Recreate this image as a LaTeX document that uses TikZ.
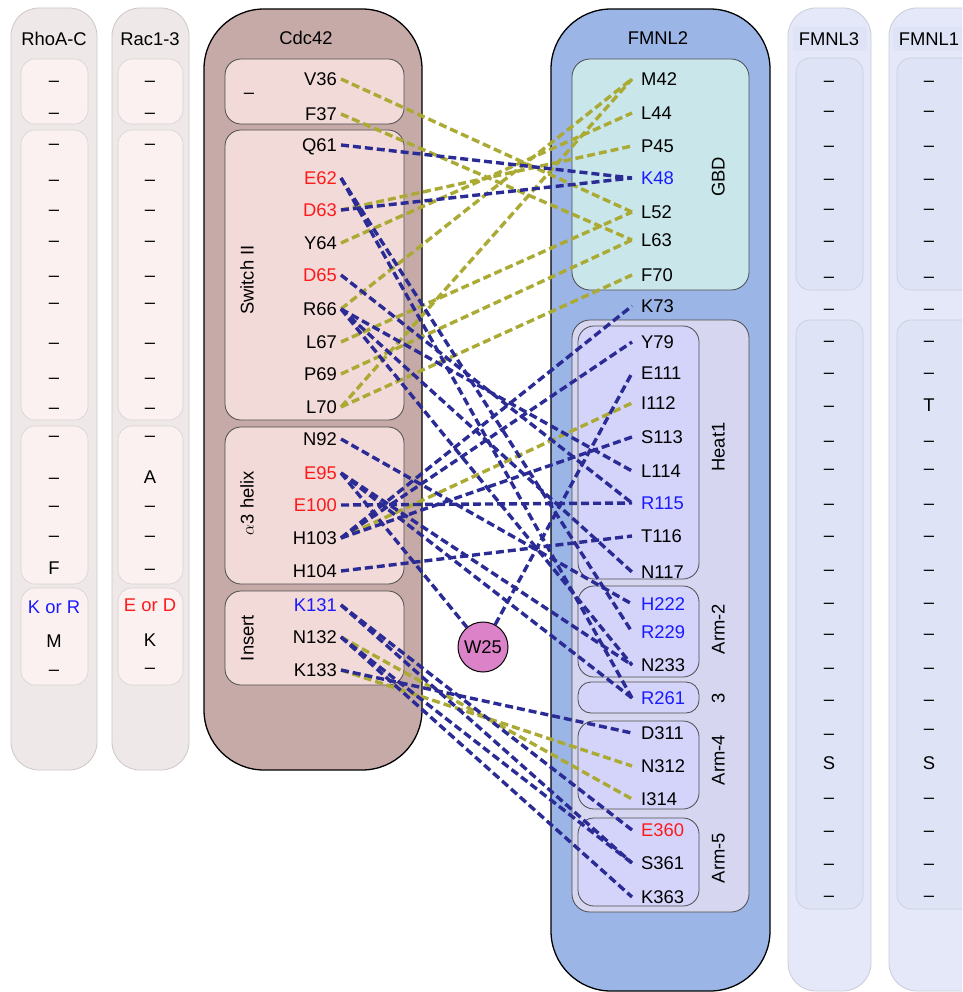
\documentclass[tikz,border=0pt]{standalone}
\usepackage{fontspec}
\setmainfont{Liberation Sans}
\definecolor{grayout}{HTML}{EFE8E8}
\definecolor{grayin}{HTML}{FBF1F1}
\definecolor{grayline}{HTML}{CFC6C6}
\definecolor{cdcout}{HTML}{C5AAA7}
\definecolor{cdcin}{HTML}{F2DAD8}
\definecolor{fmout}{HTML}{9BB5E6}
\definecolor{gbd}{HTML}{C9E6EB}
\definecolor{fh3}{HTML}{D6D6F1}
\definecolor{fhin}{HTML}{D4D4FB}
\definecolor{fm3out}{HTML}{E4E8F8}
\definecolor{fm3in}{HTML}{DFE3F6}
\definecolor{fm3line}{HTML}{C9CDDA}
\definecolor{w25c}{HTML}{DC82C8}
\definecolor{bluec}{HTML}{2B2B96}
\definecolor{olivec}{HTML}{ABAA34}
\definecolor{redt}{HTML}{FF1A1A}
\definecolor{bluet}{HTML}{1A1AFF}
\newcommand\conn[3]{\draw[#1] ([xshift=4pt]#2.east) -- ([xshift=-9pt]#3.west);}
\begin{document}
\begin{tikzpicture}[x=1pt,y=-1pt,
  res/.style={inner sep=0pt, text height=13.2pt, text depth=0pt, font=\fontsize{18.4}{20}\selectfont},
  resL/.style={res, anchor=east},
  resR/.style={res, anchor=west},
  cres/.style={res, anchor=center},
  ttl/.style={font=\fontsize{18.4}{20}\selectfont, inner sep=0pt, text height=13.2pt, text depth=0pt},
  vlab/.style={ttl, rotate=90},
  grayouter/.style={draw=grayline, fill=grayout, line width=0.8pt, rounded corners=28pt},
  grayinner/.style={draw=grayline!80, fill=grayin, line width=0.6pt, rounded corners=14pt},
  fmouter/.style={draw=fm3line, fill=fm3out, line width=0.8pt, rounded corners=28pt},
  fminner/.style={draw=fm3line, fill=fm3in, line width=0.6pt, rounded corners=14pt},
  bigouter/.style={draw=black, line width=1.3pt, rounded corners=60pt},
  inbox/.style={draw=black!70, line width=0.8pt, rounded corners=16pt},
  ol/.style={draw=olivec, line width=3.4pt, dash pattern=on 8pt off 4pt},
  bl/.style={draw=bluec, line width=3.4pt, dash pattern=on 8pt off 4pt}]
\useasboundingbox (0,0) rectangle (962,992);
\clip (0,0) rectangle (962,992);
\fill[white] (0,0) rectangle (962,992);

% ---------- RhoA-C and Rac1-3 ----------
\draw[grayouter] (11,8) rectangle (97,770);
\draw[grayouter] (112,8) rectangle (189,770);
\foreach \xa/\xb in {21/88,118/183}{
  \draw[grayinner] (\xa,59) rectangle (\xb,124);
  \draw[grayinner] (\xa,130) rectangle (\xb,420);
  \draw[grayinner] (\xa,426) rectangle (\xb,584);
  \draw[grayinner] (\xa,588) rectangle (\xb,685);
}
\node[ttl] (tRho) at (54,39) {RhoA-C};
\node[ttl] (tRac) at (150,39) {Rac1-3};
\foreach \y/\t [count=\i] in {80/--,112/--,143/--,179/--,209/--,240/--,275/--,302/--,342/--,377/--,407/--,435/--,477/--,505/--,535/--,568/F,607/{\color{bluet}K or R},641/M,669/--}
  \node[cres] (rho\i) at (54,\y) {\t};
\foreach \y/\t [count=\i] in {80/--,112/--,143/--,179/--,209/--,240/--,275/--,302/--,342/--,377/--,407/--,435/--,477/A,505/--,535/--,568/--,605/{\color{redt}E or D},640/K,667/--}
  \node[cres] (rac\i) at (150,\y) {\t};

% ---------- Cdc42 ----------
\draw[bigouter, fill=cdcout] (204,9) rectangle (422,770);
\draw[inbox, fill=cdcin] (225,59) rectangle (404,124);
\draw[inbox, fill=cdcin] (225,130) rectangle (404,420);
\draw[inbox, fill=cdcin] (225,427) rectangle (404,584);
\draw[inbox, fill=cdcin] (225,591) rectangle (404,685);
\node[ttl] (tCdc) at (306,38) {Cdc42};
\node[ttl] (cdash) at (249,92) {--};
\node[vlab] (lSw) at (247,280) {Switch II};
\node[vlab] (lA3) at (247,503) {$\alpha$3 helix};
\node[vlab] (lIns) at (247,638) {Insert};

\node[resL] (V36) at (337,79) {V36};
\node[resL] (F37) at (337,114) {F37};
\node[resL] (Q61) at (337,145) {Q61};
\node[resL] (E62) at (337,178) {\color{redt}E62};
\node[resL] (D63) at (337,210) {\color{redt}D63};
\node[resL] (Y64) at (337,243) {Y64};
\node[resL] (D65) at (337,275) {\color{redt}D65};
\node[resL] (R66) at (337,309) {R66};
\node[resL] (L67) at (337,342) {L67};
\node[resL] (P69) at (337,374) {P69};
\node[resL] (L70) at (337,407) {L70};
\node[resL] (N92) at (337,439) {N92};
\node[resL] (E95) at (337,473) {\color{redt}E95};
\node[resL] (E100) at (337,505) {\color{redt}E100};
\node[resL] (H103) at (337,538) {H103};
\node[resL] (H104) at (337,571) {H104};
\node[resL] (K131) at (337,605) {\color{bluet}K131};
\node[resL] (N132) at (337,637) {N132};
\node[resL] (K133) at (337,670) {K133};

% ---------- FMNL2 ----------
\draw[bigouter, fill=fmout] (551,9) rectangle (770,991);
\draw[inbox, fill=gbd, rounded corners=18pt] (572,59) rectangle (749,290);
\draw[inbox, fill=fh3, rounded corners=18pt] (572,320) rectangle (749,912);
\draw[inbox, fill=fhin] (578,326) rectangle (699,579);
\draw[inbox, fill=fhin] (578,586) rectangle (699,677);
\draw[inbox, fill=fhin, rounded corners=13pt] (578,682) rectangle (699,713);
\draw[inbox, fill=fhin] (578,721) rectangle (699,809);
\draw[inbox, fill=fhin] (578,818) rectangle (699,906);
\node[ttl] (tFM2) at (658,38) {FMNL2};
\node[vlab] (lGBD) at (718,177) {GBD};
\node[vlab] (lHeat) at (718,447) {Heat1};
\node[vlab] (lArm2) at (718,629) {Arm-2};
\node[vlab] (lArm3) at (718,698) {3};
\node[vlab] (lArm4) at (718,760) {Arm-4};
\node[vlab] (lArm5) at (718,858) {Arm-5};

\node[resR] (M42) at (641,79) {M42};
\node[resR] (L44) at (641,113) {L44};
\node[resR] (P45) at (641,146) {P45};
\node[resR] (K48) at (641,178) {\color{bluet}K48};
\node[resR] (L52) at (641,212) {L52};
\node[resR] (L63) at (641,240) {L63};
\node[resR] (F70) at (641,275) {F70};
\node[resR] (K73) at (641,306) {K73};
\node[resR] (Y79) at (641,342) {Y79};
\node[resR] (E111) at (641,373) {E111};
\node[resR] (I112) at (641,403) {I112};
\node[resR] (S113) at (641,437) {S113};
\node[resR] (L114) at (641,471) {L114};
\node[resR] (R115) at (641,503) {\color{bluet}R115};
\node[resR] (T116) at (641,536) {T116};
\node[resR] (N117) at (641,572) {N117};
\node[resR] (H222) at (641,604) {\color{bluet}H222};
\node[resR] (R229) at (641,632) {\color{bluet}R229};
\node[resR] (N233) at (641,665) {N233};
\node[resR] (R261) at (641,698) {\color{bluet}R261};
\node[resR] (D311) at (641,733) {D311};
\node[resR] (N312) at (641,766) {N312};
\node[resR] (I314) at (641,799) {I314};
\node[resR] (E360) at (641,830) {\color{redt}E360};
\node[resR] (S361) at (641,863) {S361};
\node[resR] (K363) at (641,897) {K363};

% ---------- FMNL3 and FMNL1 ----------
\draw[fmouter] (788,8) rectangle (871,991);
\draw[fmouter] (889,8) rectangle (1010,991);
\fill[fm3in] (793,27) rectangle (867,51);
\fill[fm3in] (893,27) rectangle (967,51);
\draw[fminner] (796,58) rectangle (863,290);
\draw[fminner] (796,320) rectangle (863,909);
\draw[fminner] (897,58) rectangle (1000,290);
\draw[fminner] (897,320) rectangle (1000,909);
\node[ttl] (tFM3) at (829,39) {FMNL3};
\node[ttl] (tFM1) at (929,39) {FMNL1};
\foreach \y/\t [count=\i] in {80/--,110/--,145/--,178/--,208/--,240/--,276/--,308/--,340/--,372/--,405/--,440/--,468/--,503/--,535/--,569/--,602/--,633/--,667/--,699/--,733/--,763/S,797/--,830/--,863/--,895/--}
  \node[cres] (fmt\i) at (829,\y) {\t};
\foreach \y/\t [count=\i] in {80/--,110/--,145/--,178/--,208/--,240/--,276/--,308/--,340/--,372/--,405/T,440/--,468/--,503/--,535/--,569/--,602/--,633/--,667/--,699/--,728/--,763/S,797/--,830/--,863/--,895/--}
  \node[cres] (fmo\i) at (929,\y) {\t};

% ---------- olive connectors ----------
\conn{ol}{V36}{L52}
\conn{ol}{F37}{L63}
\conn{ol}{D63}{P45}
\conn{ol}{Y64}{L44}
\conn{ol}{R66}{M42}
\conn{ol}{L67}{L52}
\conn{ol}{P69}{L63}
\conn{ol}{L70}{M42}
\conn{ol}{L70}{F70}
\conn{ol}{H103}{I112}
\conn{ol}{N132}{I314}
\conn{ol}{K133}{N312}

% ---------- blue connectors ----------
\conn{bl}{Q61}{K48}
\conn{bl}{D63}{K48}
\conn{bl}{E62}{R229}
\conn{bl}{E62}{R261}
\conn{bl}{D65}{R115}
\conn{bl}{R66}{L114}
\conn{bl}{R66}{N117}
\conn{bl}{R66}{N233}
\conn{bl}{N92}{H222}
\conn{bl}{E95}{N233}
\conn{bl}{E95}{R261}
\conn{bl}{E100}{R115}
\conn{bl}{H103}{K73}
\conn{bl}{H103}{Y79}
\conn{bl}{H103}{S113}
\conn{bl}{H104}{T116}
\conn{bl}{K131}{E360}
\conn{bl}{K131}{S361}
\conn{bl}{N132}{S361}
\conn{bl}{N132}{K363}
\conn{bl}{K133}{D311}

% ---------- W25 ----------
\node[circle, draw=black, line width=1pt, fill=w25c, minimum size=50pt, inner sep=0pt, font=\fontsize{18.4}{20}\selectfont] (W25) at (483,647) {W25};
\draw[bl] (W25) -- ([xshift=-9pt]E111.west);
\draw[bl] ([xshift=4pt]E95.east) -- (W25);
\end{tikzpicture}
\end{document}
